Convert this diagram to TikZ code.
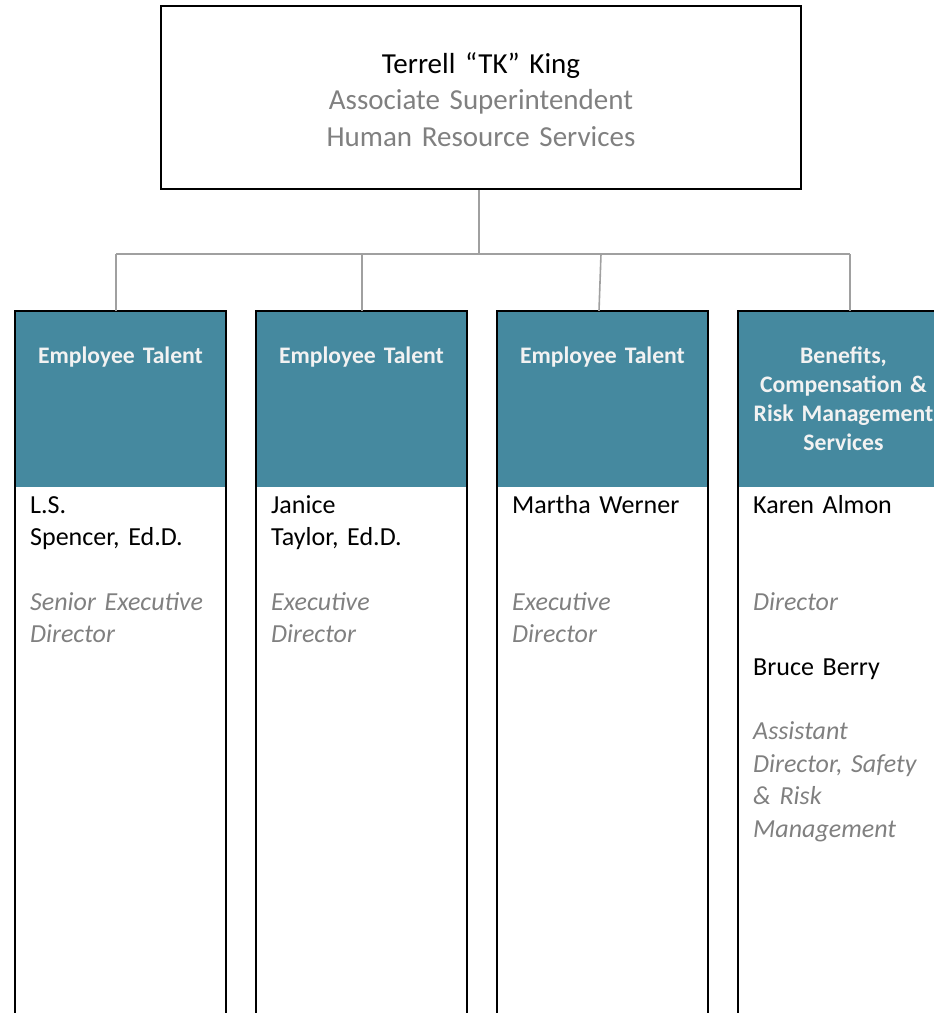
\documentclass[tikz,border=0pt]{standalone}
\usepackage{fontspec}
\setmainfont{Carlito}
\definecolor{hdrteal}{RGB}{69,137,159}
\definecolor{txtgray}{RGB}{128,128,128}
\definecolor{conngray}{RGB}{160,160,160}
\definecolor{hdrtext}{RGB}{242,242,242}
\begin{document}
\begin{tikzpicture}[x=1pt,y=-1pt,
  topbox/.style={draw=black,line width=2.4pt,minimum width=640pt,minimum height=183pt,inner sep=0pt},
  toptext/.style={align=center,text width=600pt,inner sep=0pt,font=\fontsize{29}{36.5}\selectfont},
  hdrbox/.style={fill=hdrteal,minimum width=211pt,minimum height=176pt,inner sep=0pt},
  hdrlabel/.style={align=center,text width=211pt,inner sep=0pt,text=hdrtext,font=\fontsize{23.7}{29}\selectfont\bfseries},
  bodytext/.style={align=left,text width=200pt,inner sep=0pt,font=\fontsize{26}{32.4}\selectfont},
  colline/.style={draw=black,line width=2.3pt},
  conn/.style={draw=conngray,line width=1.6pt},
  role/.style={text=txtgray,font=\itshape}
]
\useasboundingbox (0,0) rectangle (934,1013);

% top box
\node[topbox] (top) at (481,97.5) {};
\node[toptext,anchor=base] (toptxt) at (481,73) {Terrell “TK” King\\\textcolor{txtgray}{Associate Superintendent}\\\textcolor{txtgray}{Human Resource Services}};

% headers
\node[hdrbox] (h1) at (120.5,399) {};
\node[hdrbox] (h2) at (361.5,399) {};
\node[hdrbox] (h3) at (602.5,399) {};
\node[hdrbox] (h4) at (843.5,399) {};

\node[hdrlabel,anchor=base] (l1) at (120.5,363) {Employee Talent};
\node[hdrlabel,anchor=base] (l2) at (361.5,363) {Employee Talent};
\node[hdrlabel,anchor=base] (l3) at (602.5,363) {Employee Talent};
\node[hdrlabel,anchor=base] (l4) at (843.5,363) {Benefits,\\Compensation \&\\Risk Management\\Services};

% column outlines
\coordinate (bot) at (0,1030);
\foreach \h in {h1,h2,h3,h4}{
  \draw[colline] (\h.north west |- bot) -- (\h.north west) -- (\h.north east) -- (\h.north east |- bot);
}

% body texts
\node[bodytext,anchor=base west] (b1) at (30,513) {L.S.\\Spencer, Ed.D.\\\mbox{}\\{\itshape\color{txtgray}Senior Executive\\Director}};
\node[bodytext,anchor=base west] (b2) at (271,513) {Janice\\Taylor, Ed.D.\\\mbox{}\\{\itshape\color{txtgray}Executive\\Director}};
\node[bodytext,anchor=base west] (b3) at (512,513) {Martha Werner\\\mbox{}\\\mbox{}\\{\itshape\color{txtgray}Executive\\Director}};
\node[bodytext,anchor=base west] (b4) at (753,513) {Karen Almon\\\mbox{}\\\mbox{}\\{\itshape\color{txtgray}Director}\\\mbox{}\\Bruce Berry\\\mbox{}\\{\itshape\color{txtgray}Assistant\\Director, Safety\\\& Risk\\Management}};

% connectors
\coordinate (bus) at (479,254);
\coordinate (d1) at (116,254);
\coordinate (d2) at (362,254);
\coordinate (d3) at (601,254);
\coordinate (d4) at (850,254);
\draw[conn] ([xshift=-2pt]top.south) -- (bus);
\draw[conn] (d1) -- (d4);
\draw[conn] (d1) -- (d1 |- h1.north);
\draw[conn] (d2) -- (d2 |- h2.north);
\draw[conn] (d3) -- ([xshift=-2pt]d3 |- h3.north);
\draw[conn] (d4) -- (d4 |- h4.north);
\end{tikzpicture}
\end{document}
